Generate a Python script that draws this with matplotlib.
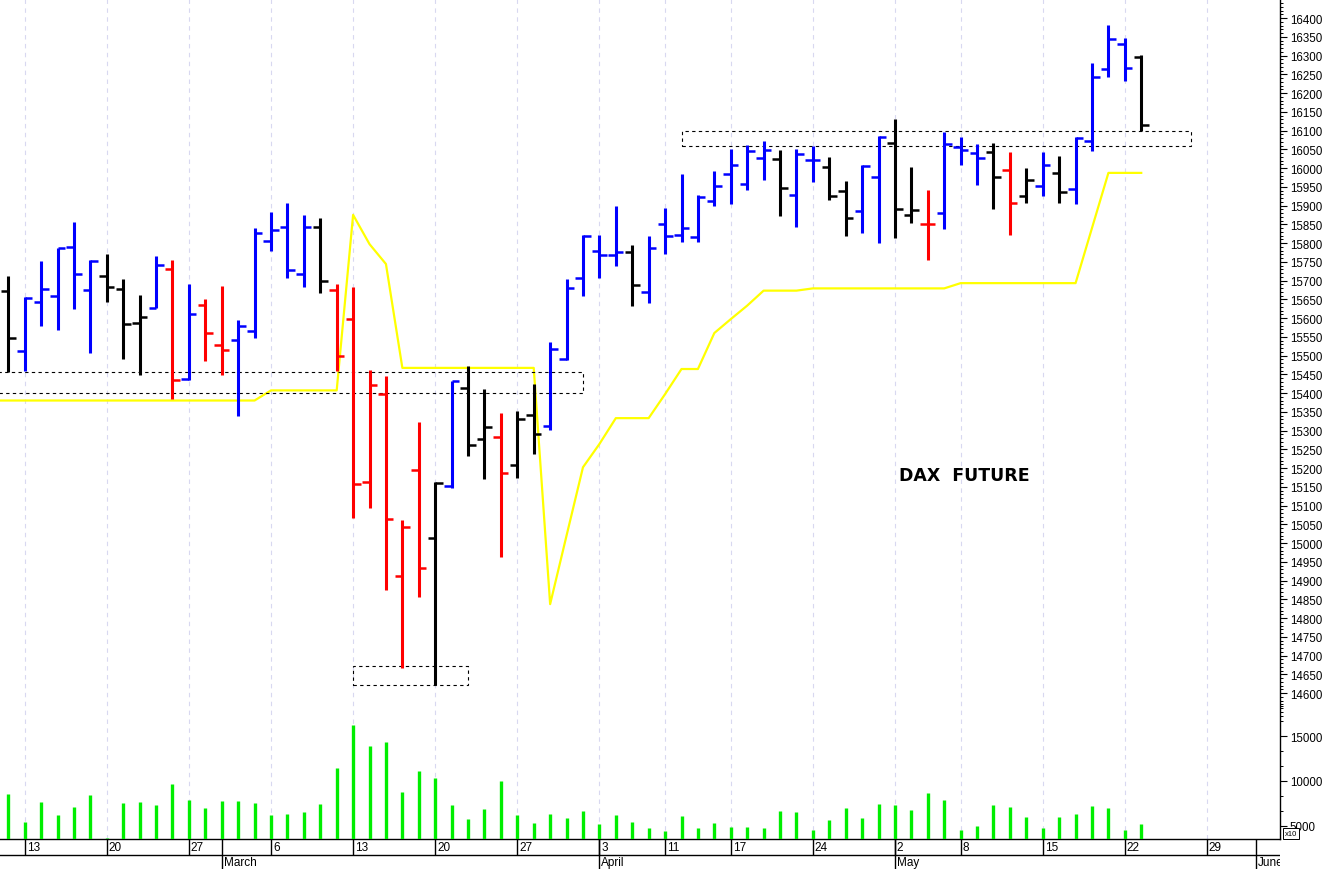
import numpy as np
import matplotlib
matplotlib.use('Agg')
import matplotlib.pyplot as plt
from matplotlib.patches import Rectangle
from matplotlib.ticker import FixedLocator, NullFormatter

plt.rcParams['font.family'] = ['Liberation Sans', 'DejaVu Sans']

# daily OHLC, DAX future, Feb 10 .. May 23 (trading days)
opens = [15671, 15511, 15642, 15660, 15790, 15676, 15711, 15677, 15588, 15628,
         15731, 15437, 15634, 15529, 15541, 15566, 15805, 15843, 15717, 15842,
         15675, 15597, 15164, 15397, 14911, 15195, 15013, 15151, 15413, 15277,
         15284, 15208, 15341, 15313, 15491, 15707, 15778, 15769, 15775, 15670,
         15851, 15822, 15817, 15913, 15984, 15957, 16028, 16024, 15928, 16021,
         16002, 15938, 15886, 15975, 16066, 15875, 15851, 15879, 16057, 16039,
         16042, 15996, 15926, 15951, 15987, 15944, 16071, 16264, 16332, 16297]
highs = [15711, 15655, 15751, 15787, 15855, 15755, 15772, 15704, 15661, 15766,
         15756, 15692, 15651, 15686, 15595, 15839, 15882, 15908, 15875, 15866,
         15692, 15682, 15462, 15445, 15062, 15322, 15162, 15433, 15473, 15412,
         15348, 15351, 15424, 15535, 15704, 15822, 15822, 15900, 15795, 15818,
         15893, 15984, 15928, 15991, 16051, 16061, 16071, 16048, 16052, 16060,
         16030, 15965, 16008, 16086, 16132, 16004, 15941, 16095, 16084, 16064,
         16068, 16044, 15999, 16042, 16033, 16082, 16280, 16381, 16348, 16301]
lows = [15455, 15458, 15580, 15567, 15624, 15507, 15644, 15491, 15449, 15628,
        15384, 15434, 15486, 15448, 15340, 15546, 15779, 15708, 15682, 15667,
        15460, 15068, 15093, 14875, 14667, 14855, 14622, 15148, 15233, 15171,
        14962, 15173, 15237, 15302, 15488, 15658, 15708, 15740, 15632, 15640,
        15771, 15802, 15802, 15898, 15904, 15941, 15969, 15871, 15842, 15964,
        15915, 15818, 15828, 15801, 15814, 15853, 15755, 15837, 16009, 15955,
        15892, 15821, 15908, 15926, 15908, 15904, 16046, 16242, 16233, 16098]
closes = [15547, 15653, 15678, 15787, 15717, 15753, 15684, 15584, 15604, 15741,
          15434, 15610, 15560, 15514, 15578, 15826, 15835, 15728, 15842, 15700,
          15500, 15157, 15421, 15064, 15042, 14933, 15159, 15431, 15261, 15310,
          15187, 15331, 15291, 15517, 15681, 15820, 15769, 15776, 15688, 15786,
          15820, 15840, 15922, 15951, 16008, 16046, 16048, 15946, 16037, 16021,
          15926, 15867, 16006, 16084, 15891, 15887, 15851, 16064, 16048, 16028,
          15975, 15907, 15968, 16008, 15935, 16080, 16244, 16344, 16267, 16115]
bar_codes = ('kbbbbbkkkb' 'rbrrbbbbbk' 'rrrrrrkbkk' 'rkkbbbbbkb'
             'bbbbbbbkbb' 'kkbbkkrbbb' 'krkbkbbbbk')
volume = [8539, 5392, 7640, 6145, 7044, 8392, 3600, 7494, 7640, 7340,
          9663, 7900, 6930, 7752, 7752, 7527, 6145, 6257, 6516, 7381,
          11386, 16294, 13934, 14384, 8800, 11090, 10337, 7302, 5762, 6853,
          10000, 6178, 5280, 6290, 5841, 6662, 5201, 6178, 5425, 4717,
          4380, 6066, 4683, 5280, 4863, 4795, 4683, 6594, 6516, 4459,
          5650, 6965, 5875, 7381, 7302, 6707, 8685, 7830, 4549, 4942,
          7340, 7044, 5954, 4683, 5954, 6290, 7224, 6965, 4459, 5167]
# yellow line, starts one bar before the first visible bar
trend = [15380] * 17 + [15407] * 5 + [15875, 15797, 15744] + [15467] * 9 + \
        [14837, 15020, 15202, 15264, 15333, 15333, 15333, 15397, 15464, 15464,
         15560, 15597, 15633, 15673, 15673, 15673] + [15679] * 9 + [15693] * 8 + \
        [15840, 15987, 15987, 15987]

# date axis (trading day index -> label)
week_idx = [1, 6, 11, 16, 21, 26, 31, 36, 40, 44, 49, 54, 58, 63, 68, 73]
week_lbl = ['13', '20', '27', '6', '13', '20', '27', '3', '11', '17', '24',
            '2', '8', '15', '22', '29']
month_idx = [13, 36, 54, 76]
month_lbl = ['March', 'April', 'May', 'June']

# dashed boxes: (first bar, last bar, low, high)
boxes = [(-1, 35, 15400, 15455), (21, 28, 14622, 14671), (41, 72, 16058, 16100)]

color_map = {'b': '#0000ff', 'r': '#ff0000', 'k': '#000000'}
cols = [color_map[c] for c in bar_codes]
idx = np.arange(len(opens))

W, H = 1328, 870
fig = plt.figure(figsize=(W / 100, H / 100), dpi=100)
ax = fig.add_axes([0, 30 / H, 1280 / W, 840 / H])
xlim = (-0.505, 77.45)
ax.set_xlim(*xlim)
ax.set_ylim(14210.7, 16450.7)

# weekly grid
for w in week_idx:
    ax.axvline(w, color='#d8d8f0', lw=0.8, ls=(0, (4, 4)), zorder=0)

# yellow line
ax.plot(np.arange(-1, len(trend) - 1), trend, color='#ffff00', lw=1.6, zorder=1)

# OHLC bars
ax.vlines(idx, lows, highs, colors=cols, lw=2.2, zorder=3)
ax.hlines(opens, idx - 0.46, idx, colors=cols, lw=1.8, zorder=3)
ax.hlines(closes, idx, idx + 0.46, colors=cols, lw=1.8, zorder=3)

for x0, x1, lo, hi in boxes:
    ax.add_patch(Rectangle((x0, lo), x1 - x0, hi - lo, fill=False, ec='black',
                           lw=0.8, ls=(0, (3, 3)), zorder=2))

ax.text(0.753, 0.4333, 'DAX  FUTURE', transform=ax.transAxes, ha='center',
        va='center', fontsize=12.5, fontweight='bold', family='DejaVu Sans')

# volume on its own scale
ax2 = ax.twinx()
ax2.set_ylim(3490, 97490)
ax2.vlines(idx, 3490, volume, colors='#00ee00', lw=2.4)
ax2.yaxis.set_major_locator(FixedLocator([5000, 10000, 15000]))
ax2.yaxis.set_minor_locator(FixedLocator(np.arange(5000, 19000, 5000 / 3)))
ax2.yaxis.set_minor_formatter(NullFormatter())
ax2.tick_params(axis='y', which='major', length=5, width=0.8, labelsize=8.3, pad=2)
ax2.tick_params(axis='y', which='minor', length=2.5, width=0.7)
for s in ['left', 'top', 'bottom', 'right']:
    ax2.spines[s].set_visible(False)

# price axis on the right (after twinx, which moves it left)
ax.yaxis.tick_right()
ax.yaxis.set_label_position('right')
ax.yaxis.set_major_locator(FixedLocator(np.arange(14600, 16401, 50)))
ax.yaxis.set_minor_locator(FixedLocator(np.arange(14540, 16451, 10)))
ax.yaxis.set_minor_formatter(NullFormatter())
ax.tick_params(axis='y', which='major', length=5, width=0.8, labelsize=8.3, pad=2)
ax.tick_params(axis='y', which='minor', length=2.5, width=0.7)
ax.set_xticks([])
for s in ['left', 'top']:
    ax.spines[s].set_visible(False)
ax.spines['right'].set_linewidth(1.0)
ax.spines['bottom'].set_linewidth(1.0)

fig.text(1291 / W, 1 - 834.5 / H, 'x10', fontsize=5.5, ha='center', va='center',
         bbox=dict(boxstyle='square,pad=0.25', fc='white', ec='black', lw=0.7))

# date strip
axd = fig.add_axes([0, 0, 1280 / W, 30 / H])
axd.set_xlim(*xlim)
axd.set_ylim(0, 30)
axd.axis('off')
axd.axhline(14, color='black', lw=1.0)
axd.vlines(week_idx, 14, 30, colors='black', lw=1.0)
axd.vlines(month_idx, 0, 30, colors='black', lw=1.0)
for w, t in zip(week_idx, week_lbl):
    axd.text(w + 0.12, 22, t, fontsize=8.5, va='center', ha='left', clip_on=True)
for m, t in zip(month_idx, month_lbl):
    axd.text(m + 0.12, 6.5, t, fontsize=8.5, va='center', ha='left', clip_on=True)

fig.savefig('out.png', dpi=100, facecolor='white')
